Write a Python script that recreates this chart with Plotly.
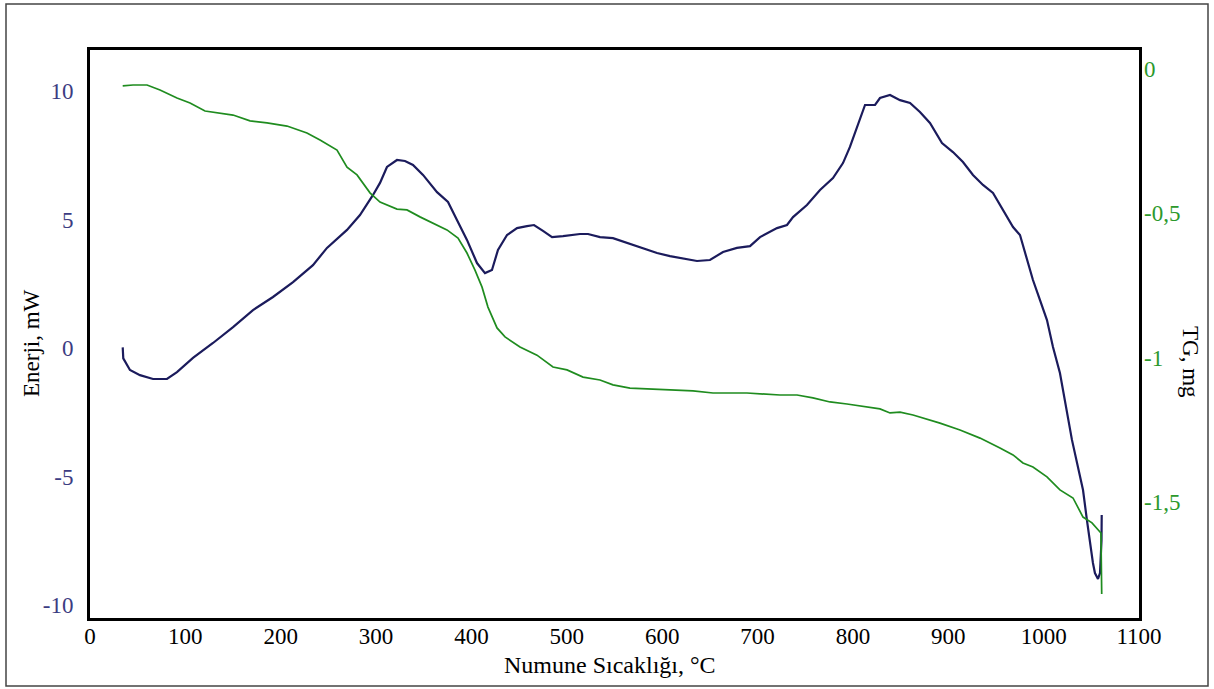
import plotly.graph_objects as go

# ---------------- data ----------------
temp_dsc = [34.3, 34.9, 41.9, 52.4, 66.1, 80.7, 91.2, 108.0, 129.0, 150.0, 170.9, 191.9,
            212.9, 233.8, 248.5, 269.5, 283.1, 296.8, 304.1, 311.4, 321.9, 330.3, 338.7,
            349.2, 363.9, 375.4, 384.8, 395.3, 405.8, 414.2, 421.5, 427.8, 437.3, 447.8,
            458.2, 465.6, 475.0, 484.5, 496.0, 513.8, 522.2, 534.8, 548.4, 563.1, 579.9,
            594.6, 608.2, 618.7, 636.5, 650.1, 663.8, 678.4, 692.1, 702.6, 720.4, 730.9,
            737.2, 751.8, 765.5, 779.1, 789.6, 796.9, 804.3, 812.7, 823.2, 828.4, 838.9,
            849.4, 859.9, 870.3, 880.8, 893.4, 904.9, 915.4, 925.9, 936.4, 946.9, 957.4,
            967.9, 975.2, 982.5, 988.8, 996.2, 1003.5, 1009.8, 1017.1, 1029.7, 1036.0,
            1041.3, 1045.4, 1048.6, 1051.7, 1053.8, 1057.0, 1059.1, 1060.7, 1060.9]
energy_mw = [0.03, -0.40, -0.85, -1.05, -1.20, -1.20, -0.93, -0.38, 0.20, 0.82, 1.48, 1.99,
             2.57, 3.23, 3.90, 4.60, 5.18, 5.96, 6.43, 7.05, 7.32, 7.28, 7.13,
             6.74, 6.07, 5.69, 4.99, 4.21, 3.31, 2.92, 3.04, 3.82, 4.40, 4.67,
             4.75, 4.79, 4.56, 4.32, 4.36, 4.44, 4.44, 4.32, 4.28, 4.09, 3.90,
             3.70, 3.58, 3.51, 3.39, 3.43, 3.74, 3.90, 3.97, 4.32, 4.67, 4.79,
             5.10, 5.57, 6.15, 6.62, 7.20, 7.83, 8.60, 9.46, 9.46, 9.73, 9.85,
             9.65, 9.54, 9.19, 8.76, 7.98, 7.63, 7.24, 6.74, 6.35, 6.04, 5.37,
             4.71, 4.40, 3.43, 2.65, 1.87, 1.09, 0.04, -0.97, -3.57, -4.63,
             -5.52, -6.69, -7.58, -8.36, -8.75, -8.98, -8.75, -7.47, -6.49]

temp_tg = [34.3, 45.1, 59.8, 73.4, 91.2, 104.9, 120.6, 136.3, 150.0, 167.8, 185.6, 206.6,
           227.5, 241.2, 259.0, 269.5, 280.0, 293.6, 304.1, 321.9, 332.4, 346.0, 359.7,
           374.3, 385.9, 395.3, 403.7, 411.1, 417.3, 426.8, 435.2, 450.9, 468.7, 485.5,
           500.2, 517.0, 534.8, 548.4, 566.2, 584.1, 600.8, 618.7, 632.3, 653.3, 688.9,
           723.5, 741.4, 758.1, 776.0, 793.8, 814.8, 828.4, 838.9, 849.4, 863.0, 877.7,
           891.3, 912.3, 933.3, 954.2, 967.9, 978.3, 988.8, 1003.5, 1017.1, 1030.8,
           1041.3, 1050.7, 1058.0, 1060.1, 1060.9]
mass_mg = [-0.060, -0.057, -0.057, -0.074, -0.102, -0.119, -0.147, -0.154, -0.161, -0.181,
           -0.188, -0.199, -0.223, -0.247, -0.282, -0.341, -0.368, -0.430, -0.462, -0.486,
           -0.489, -0.513, -0.534, -0.558, -0.586, -0.638, -0.697, -0.756, -0.825, -0.897,
           -0.928, -0.963, -0.991, -1.032, -1.042, -1.067, -1.077, -1.094, -1.105, -1.108,
           -1.112, -1.115, -1.115, -1.122, -1.122, -1.129, -1.129, -1.139, -1.153, -1.160,
           -1.170, -1.177, -1.191, -1.188, -1.198, -1.212, -1.226, -1.250, -1.278, -1.312,
           -1.336, -1.364, -1.378, -1.412, -1.457, -1.485, -1.551, -1.571, -1.596, -1.606,
           -1.817]

x_tick_vals = [0, 100, 200, 300, 400, 500, 600, 700, 800, 900, 1000, 1100]
x_tick_text = ["0", "100", "200", "300", "400", "500", "600", "700", "800", "900", "1000", "1100"]
left_tick_vals = [-10, -5, 0, 5, 10]
left_tick_text = ["-10", "-5", "0", "5", "10"]
right_tick_vals = [-1.5, -1.0, -0.5, 0.0]
right_tick_text = ["-1,5", "-1", "-0,5", "0"]

# ---------------- style ----------------
W, H = 1214, 689
ML, MR, MT, MB = 90, 75, 50, 71
SERIF = "Liberation Serif, Times New Roman, serif"
BLUE = "#1b1b5c"
GREEN = "#1f8c1f"
LEFT_TICK_COLOR = "#3c3c82"
RIGHT_TICK_COLOR = "#2c992c"

fig = go.Figure()
fig.add_trace(go.Scatter(x=temp_dsc, y=energy_mw, mode="lines", name="Enerji",
                         line=dict(color=BLUE, width=2.2), yaxis="y"))
fig.add_trace(go.Scatter(x=temp_tg, y=mass_mg, mode="lines", name="TG",
                         line=dict(color=GREEN, width=1.7), yaxis="y2"))

pw = W - ML - MR
ph = H - MT - MB

def px_to_paper_x(px):
    return (px - ML) / pw

def px_to_paper_y(py):
    return (H - MB - py) / ph

fig.update_layout(
    width=W, height=H,
    margin=dict(l=ML, r=MR, t=MT, b=MB, autoexpand=False),
    paper_bgcolor="white", plot_bgcolor="white",
    showlegend=False,
    font=dict(family=SERIF, size=23, color="black"),
    xaxis=dict(
        range=[0, 1100], tickvals=x_tick_vals, ticktext=x_tick_text,
        showline=True, linewidth=3, linecolor="black", mirror=True,
        showgrid=False, zeroline=False, ticks="", ticklabelstandoff=-5,
        tickfont=dict(family=SERIF, size=23, color="black"),
        automargin=False,
    ),
    yaxis=dict(
        range=[-10.5, 11.6], tickvals=left_tick_vals, ticktext=left_tick_text,
        showline=True, linewidth=3, linecolor="black", mirror=True,
        showgrid=False, zeroline=False, ticks="", ticklabelstandoff=9,
        tickfont=dict(family=SERIF, size=23, color=LEFT_TICK_COLOR),
        automargin=False,
    ),
    yaxis2=dict(
        range=[-1.9, 0.064], tickvals=right_tick_vals, ticktext=right_tick_text,
        overlaying="y", side="right",
        showline=False, showgrid=False, zeroline=False, ticks="", ticklabelstandoff=4,
        tickfont=dict(family=SERIF, size=23, color=RIGHT_TICK_COLOR),
        automargin=False,
    ),
    annotations=[
        dict(text="Numune Sıcaklığı, °C", xref="paper", yref="paper",
             x=px_to_paper_x(610), y=px_to_paper_y(665), xanchor="center", yanchor="middle",
             showarrow=False, font=dict(family=SERIF, size=24, color="black")),
        dict(text="Enerji, mW", textangle=-90, xref="paper", yref="paper",
             x=px_to_paper_x(31), y=px_to_paper_y(343), xanchor="center", yanchor="middle",
             showarrow=False, font=dict(family=SERIF, size=23, color="black")),
        dict(text="TG, mg", textangle=90, xref="paper", yref="paper",
             x=px_to_paper_x(1190), y=px_to_paper_y(362), xanchor="center", yanchor="middle",
             showarrow=False, font=dict(family=SERIF, size=23, color="black")),
    ],
    shapes=[dict(
        type="rect", xref="paper", yref="paper",
        x0=px_to_paper_x(6), x1=px_to_paper_x(1208),
        y0=px_to_paper_y(686), y1=px_to_paper_y(4),
        line=dict(color="#444444", width=1.5), fillcolor="rgba(0,0,0,0)", layer="below",
    )],
)

fig.write_html("out.html")
